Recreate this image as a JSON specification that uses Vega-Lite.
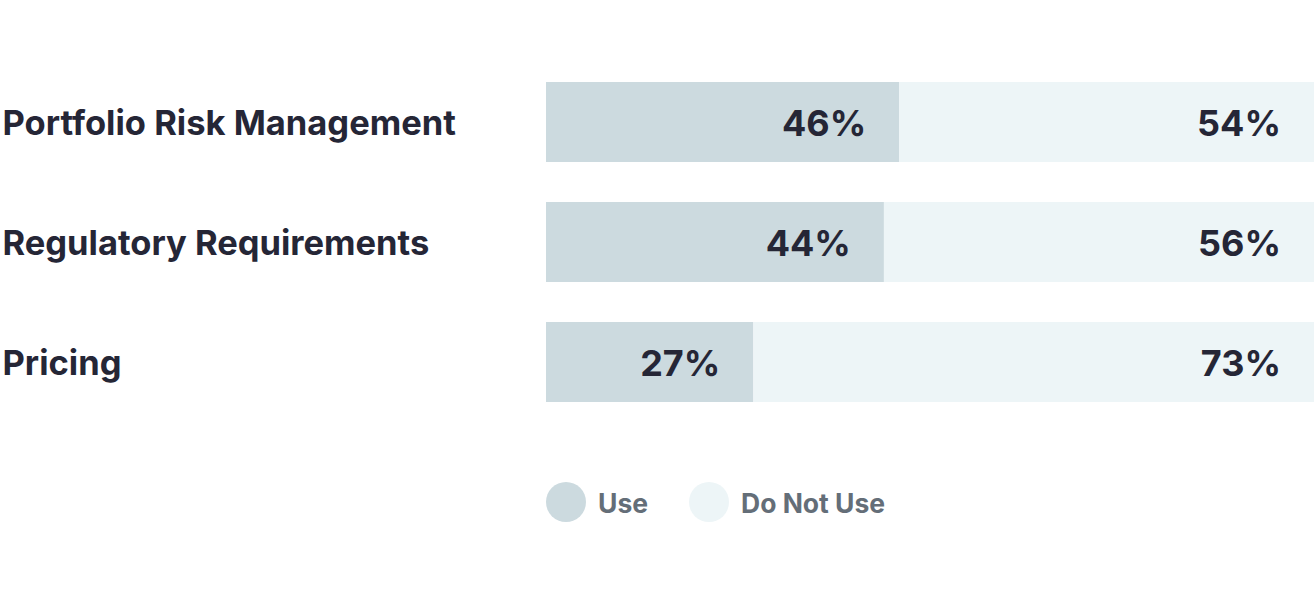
{
  "$schema": "https://vega.github.io/schema/vega-lite/v6.json",
  "width": 768,
  "height": 360,
  "autosize": {"type": "none"},
  "padding": {"left": 546, "top": 62, "right": 2, "bottom": 184},
  "background": "#ffffff",
  "config": {
    "view": {"stroke": null},
    "font": "Inter"
  },
  "data": {
    "values": [
      {"category": "Portfolio Risk Management", "series": "Use", "value": 0.46},
      {"category": "Portfolio Risk Management", "series": "Do Not Use", "value": 0.54},
      {"category": "Regulatory Requirements", "series": "Use", "value": 0.44},
      {"category": "Regulatory Requirements", "series": "Do Not Use", "value": 0.56},
      {"category": "Pricing", "series": "Use", "value": 0.27},
      {"category": "Pricing", "series": "Do Not Use", "value": 0.73}
    ]
  },
  "transform": [
    {"stack": "value", "groupby": ["category"], "sort": [{"field": "series", "order": "descending"}], "as": ["v0", "v1"]}
  ],
  "encoding": {
    "y": {
      "field": "category",
      "type": "nominal",
      "sort": null,
      "scale": {"paddingInner": 0.3333, "paddingOuter": 0.1667},
      "axis": {
        "title": null,
        "domain": false,
        "ticks": false,
        "tickSize": 0,
        "labelAlign": "left",
        "labelBaseline": "middle",
        "labelPadding": 544,
        "labelFontSize": 34.5,
        "labelFontWeight": "bold",
        "labelColor": "#252636",
        "labelLimit": 600,
        "labelFont": "Inter",
        "labelOffset": 3
      }
    }
  },
  "layer": [
    {
      "mark": {"type": "bar"},
      "encoding": {
        "x": {"field": "v0", "type": "quantitative", "scale": {"domain": [0, 1], "nice": false}, "axis": null},
        "x2": {"field": "v1"},
        "color": {
          "field": "series",
          "type": "nominal",
          "scale": {"domain": ["Use", "Do Not Use"], "range": ["#ccdadf", "#edf5f7"]},
          "legend": {
            "title": null,
            "orient": "none",
            "legendX": 0,
            "legendY": 420,
            "direction": "horizontal",
            "symbolType": "circle",
            "symbolSize": 1600,
            "symbolStrokeWidth": 0,
            "symbolOpacity": 1,
            "labelFontSize": 26.5,
            "labelFontWeight": "bold",
            "labelColor": "#646e78",
            "labelFont": "Inter",
            "labelOffset": 12,
            "columnPadding": 40,
            "padding": 0,
            "encode": {"labels": {"update": {"dy": {"value": 3}}}}
          }
        }
      }
    },
    {
      "mark": {"type": "text", "align": "right", "baseline": "middle", "dx": -33, "dy": 3, "fontSize": 36, "fontWeight": "bold", "color": "#252636", "font": "Inter"},
      "encoding": {
        "x": {"field": "v1", "type": "quantitative"},
        "text": {"field": "value", "type": "quantitative", "format": ".0%"},
        "detail": {"field": "series"}
      }
    }
  ]
}
